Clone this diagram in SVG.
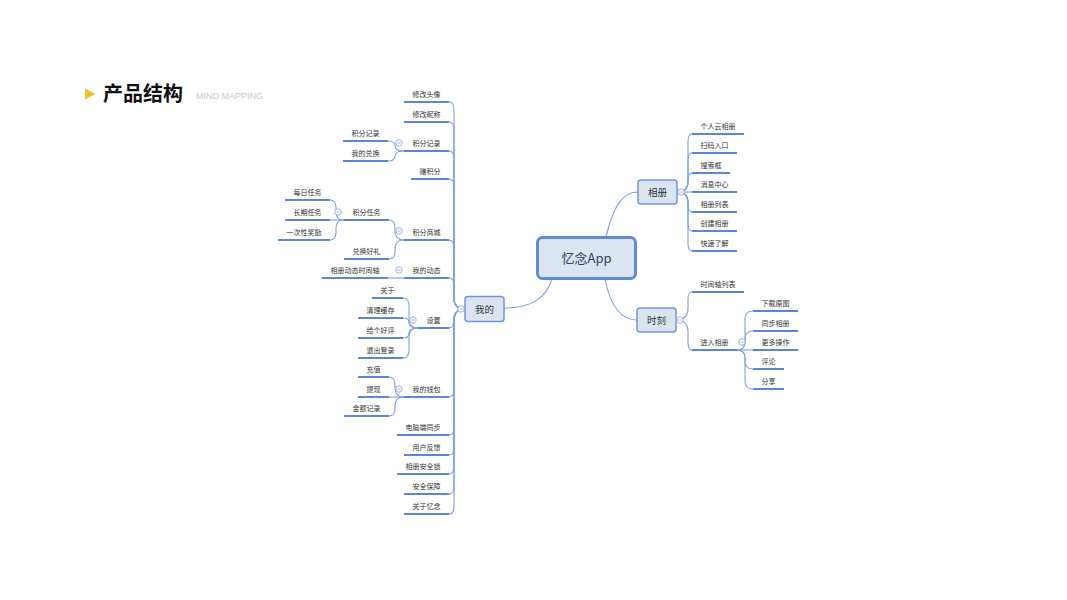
<svg xmlns="http://www.w3.org/2000/svg" xmlns:xlink="http://www.w3.org/1999/xlink" width="1067" height="600" viewBox="0 0 1067 600">
<style>
.bg{fill:#ffffff}
.t{font-family:"Noto Sans CJK SC","Microsoft YaHei",sans-serif;font-size:7px;fill:#333;text-anchor:middle}
.nt{font-family:"Noto Sans CJK SC",sans-serif;font-size:9.5px;fill:#333;text-anchor:middle}
.ul{stroke:#5b87d6;stroke-width:2;fill:none}
.c{stroke:#7ea2e0;stroke-width:1.1;fill:none}
.box{fill:#dde4f1;stroke:#6f96da;stroke-width:1.5}
</style>
<defs>
<g id="tog"><circle cx="0" cy="0" r="3.2" fill="#fff" stroke="#7ea2e0" stroke-width="0.8"/><path d="M-1.6 0H1.6" stroke="#7ea2e0" stroke-width="0.8"/></g>
</defs>
<rect class="bg" x="0" y="0" width="1067" height="600"/>

<g id="title">
<polygon points="85,88.5 95.5,94 85,99.5" fill="#f2c12e"/>
<text x="103" y="101" font-family="'Noto Sans CJK SC',sans-serif" font-size="20" font-weight="bold" fill="#111">产品结构</text>
<text x="196" y="99" font-family="'Liberation Sans',Arial,sans-serif" font-size="9" fill="#c8c8c8">MIND MAPPING</text>
</g>

<g id="connectors">
<path class="c" d="M552 279 C546 298 532 308 504 308"/>
<path class="c" d="M606 237 C612 212 620 192 638 192"/>
<path class="c" d="M605 279 C610 304 620 320 637 320"/>
<!-- 相册 -->
<path class="c" d="M677 192 Q688 192 688 181 L688 142 Q688 134 692 134"/>
<path class="c" d="M677 192 Q688 192 688 181 L688 161 Q688 153 692 153"/>
<path class="c" d="M677 192 Q688 192 688 182.5 L688 181 Q688 173 692 173"/>
<path class="c" d="M677 192 L692 192"/>
<path class="c" d="M677 192 Q688 192 688 202 L688 204 Q688 212 692 212"/>
<path class="c" d="M677 192 Q688 192 688 203 L688 223 Q688 231 692 231"/>
<path class="c" d="M677 192 Q688 192 688 203 L688 243 Q688 251 692 251"/>
<!-- 时刻 -->
<path class="c" d="M676 320 Q688 320 688 308 L688 300 Q688 292 692 292"/>
<path class="c" d="M676 320 Q688 320 688 332 L688 342 Q688 350 692 350"/>
<!-- 进入相册 -->
<path class="c" d="M737 350 Q745 350 745 342 L745 319 Q745 311 753 311"/>
<path class="c" d="M737 350 Q745 350 745 342 L745 339 Q745 331 753 331"/>
<path class="c" d="M737 350 L753 350"/>
<path class="c" d="M737 350 Q745 350 745 358 L745 361 Q745 369 753 369"/>
<path class="c" d="M737 350 Q745 350 745 358 L745 381 Q745 389 753 389"/>
<!-- 我的 -->
<path class="c" d="M465 309 Q454 309 454 298 L454 110 Q454 102 449 102"/>
<path class="c" d="M465 309 Q454 309 454 298 L454 130 Q454 122 449 122"/>
<path class="c" d="M465 309 Q454 309 454 298 L454 159 Q454 151 449 151"/>
<path class="c" d="M465 309 Q454 309 454 298 L454 187 Q454 179 449 179"/>
<path class="c" d="M465 309 Q454 309 454 298 L454 248 Q454 240 449 240"/>
<path class="c" d="M465 309 Q454 309 454 298 L454 286 Q454 278 449 278"/>
<path class="c" d="M465 309 Q454 309 454 318.5 L454 320 Q454 328 449 328"/>
<path class="c" d="M465 309 Q454 309 454 320 L454 389 Q454 397 449 397"/>
<path class="c" d="M465 309 Q454 309 454 320 L454 427 Q454 435 449 435"/>
<path class="c" d="M465 309 Q454 309 454 320 L454 447 Q454 455 449 455"/>
<path class="c" d="M465 309 Q454 309 454 320 L454 466 Q454 474 449 474"/>
<path class="c" d="M465 309 Q454 309 454 320 L454 486 Q454 494 449 494"/>
<path class="c" d="M465 309 Q454 309 454 320 L454 506 Q454 514 449 514"/>
<!-- 积分记录 -->
<path class="c" d="M404 151 Q395 151 395 146 Q395 141 388 141"/>
<path class="c" d="M404 151 Q395 151 395 156 Q395 161 388 161"/>
<!-- 积分商城 -->
<path class="c" d="M404 240 Q395 240 395 231 L395 228 Q395 220 389 220"/>
<path class="c" d="M404 240 Q395 240 395 249 L395 251 Q395 259 389 259"/>
<!-- 积分任务 -->
<path class="c" d="M344 220 Q336 220 336 212 L336 208 Q336 200 330 200"/>
<path class="c" d="M344 220 L330 220"/>
<path class="c" d="M344 220 Q336 220 336 228 L336 232 Q336 240 330 240"/>
<!-- 我的动态 -->
<path class="c" d="M404 278 L388 278"/>
<!-- 设置 -->
<path class="c" d="M418 328 Q409 328 409 319 L409 306 Q409 298 403 298"/>
<path class="c" d="M418 328 Q409 328 409 323 Q409 318 403 318"/>
<path class="c" d="M418 328 Q409 328 409 333 Q409 338 403 338"/>
<path class="c" d="M418 328 Q409 328 409 337 L409 350 Q409 358 403 358"/>
<!-- 我的钱包 -->
<path class="c" d="M404 397 Q395 397 395 388 L395 385 Q395 377 389 377"/>
<path class="c" d="M404 397 L389 397"/>
<path class="c" d="M404 397 Q395 397 395 406 L395 408 Q395 416 389 416"/>
</g>

<g id="root">
<rect x="537.5" y="237.5" width="98" height="41" rx="5" fill="#dde4f1" stroke="#5f8ad6" stroke-width="3"/>
<text x="586.5" y="263" font-family="'Noto Sans CJK SC',sans-serif" font-size="13" fill="#33425e" text-anchor="middle">忆念App</text>
</g>

<g id="n-wode"><rect class="box" x="465" y="296.5" width="39" height="25" rx="3"/><text class="nt" x="484.5" y="312.5">我的</text><use xlink:href="#tog" x="461" y="309"/></g>
<g id="n-xiangce"><rect class="box" x="638" y="180" width="39" height="24" rx="3"/><text class="nt" x="657.5" y="195.5">相册</text><use xlink:href="#tog" x="681" y="192"/></g>
<g id="n-shike"><rect class="box" x="637" y="308" width="39" height="24" rx="3"/><text class="nt" x="656.5" y="323.5">时刻</text><use xlink:href="#tog" x="680" y="320"/></g>

<!-- 我的 children -->
<g id="l-xgtx"><path class="ul" d="M404 102H449"/><text class="t" x="426.5" y="97">修改头像</text></g>
<g id="l-xgnc"><path class="ul" d="M404 122H449"/><text class="t" x="426.5" y="117">修改昵称</text></g>
<g id="l-jfjl"><path class="ul" d="M404 151H449"/><text class="t" x="426.5" y="146">积分记录</text><use xlink:href="#tog" x="399" y="143"/></g>
<g id="l-zjf"><path class="ul" d="M411 179H449"/><text class="t" x="430" y="174">赚积分</text></g>
<g id="l-jfsc"><path class="ul" d="M404 240H449"/><text class="t" x="426.5" y="235">积分商城</text><use xlink:href="#tog" x="399" y="231"/></g>
<g id="l-wddt"><path class="ul" d="M404 278H449"/><text class="t" x="426.5" y="273">我的动态</text><use xlink:href="#tog" x="399" y="270"/></g>
<g id="l-sz"><path class="ul" d="M418 328H449"/><text class="t" x="433.5" y="323">设置</text><use xlink:href="#tog" x="413" y="320"/></g>
<g id="l-wdqb"><path class="ul" d="M404 397H449"/><text class="t" x="426.5" y="392">我的钱包</text><use xlink:href="#tog" x="399" y="389"/></g>
<g id="l-dndtb"><path class="ul" d="M397 435H449"/><text class="t" x="423" y="430">电脑端同步</text></g>
<g id="l-yhfk"><path class="ul" d="M404 455H449"/><text class="t" x="426.5" y="450">用户反馈</text></g>
<g id="l-xcaqs"><path class="ul" d="M397 474H449"/><text class="t" x="423" y="469">相册安全锁</text></g>
<g id="l-aqbz"><path class="ul" d="M404 494H449"/><text class="t" x="426.5" y="489">安全保障</text></g>
<g id="l-gyyn"><path class="ul" d="M404 514H449"/><text class="t" x="426.5" y="509">关于忆念</text></g>

<!-- sub children left -->
<g id="l-jfjl2"><path class="ul" d="M343 141H388"/><text class="t" x="365.5" y="136">积分记录</text></g>
<g id="l-wddh"><path class="ul" d="M343 161H388"/><text class="t" x="365.5" y="156">我的兑换</text></g>
<g id="l-jfrw"><path class="ul" d="M344 220H389"/><text class="t" x="366.5" y="215">积分任务</text><use xlink:href="#tog" x="338" y="212"/></g>
<g id="l-dhhl"><path class="ul" d="M344 259H389"/><text class="t" x="366.5" y="254">兑换好礼</text></g>
<g id="l-mrrw"><path class="ul" d="M285 200H330"/><text class="t" x="307.5" y="195">每日任务</text></g>
<g id="l-cqrw"><path class="ul" d="M285 220H330"/><text class="t" x="307.5" y="215">长期任务</text></g>
<g id="l-ycxjl"><path class="ul" d="M278 240H330"/><text class="t" x="304" y="235">一次性奖励</text></g>
<g id="l-xcdt"><path class="ul" d="M322 278H388"/><text class="t" x="355" y="273">相册动态时间轴</text></g>
<g id="l-gy"><path class="ul" d="M372 298H403"/><text class="t" x="387.5" y="293">关于</text></g>
<g id="l-qlhc"><path class="ul" d="M358 318H403"/><text class="t" x="380.5" y="313">清理缓存</text></g>
<g id="l-ggph"><path class="ul" d="M358 338H403"/><text class="t" x="380.5" y="333">给个好评</text></g>
<g id="l-tcdl"><path class="ul" d="M358 358H403"/><text class="t" x="380.5" y="353">退出登录</text></g>
<g id="l-cz"><path class="ul" d="M358 377H389"/><text class="t" x="373.5" y="372">充值</text></g>
<g id="l-tx"><path class="ul" d="M358 397H389"/><text class="t" x="373.5" y="392">提现</text></g>
<g id="l-jejl"><path class="ul" d="M344 416H389"/><text class="t" x="366.5" y="411">金额记录</text></g>

<!-- 相册 children -->
<g id="r-grycc"><path class="ul" d="M692 134H744"/><text class="t" x="718" y="129">个人云相册</text></g>
<g id="r-smrk"><path class="ul" d="M692 153H737"/><text class="t" x="714.5" y="148">扫码入口</text></g>
<g id="r-ssk"><path class="ul" d="M692 173H730"/><text class="t" x="711" y="168">搜索框</text></g>
<g id="r-xxzx"><path class="ul" d="M692 192H737"/><text class="t" x="714.5" y="187">消息中心</text></g>
<g id="r-xclb"><path class="ul" d="M692 212H737"/><text class="t" x="714.5" y="207">相册列表</text></g>
<g id="r-cjxc"><path class="ul" d="M692 231H737"/><text class="t" x="714.5" y="226">创建相册</text></g>
<g id="r-ksl"><path class="ul" d="M692 251H737"/><text class="t" x="714.5" y="246">快速了解</text></g>

<!-- 时刻 children -->
<g id="r-sjzlb"><path class="ul" d="M692 292H744"/><text class="t" x="718" y="287">时间轴列表</text></g>
<g id="r-jrxc"><path class="ul" d="M692 350H737"/><text class="t" x="714.5" y="345">进入相册</text><use xlink:href="#tog" x="742" y="342"/></g>
<g id="r-xzyt"><path class="ul" d="M753 311H798"/><text class="t" x="775.5" y="306">下载原图</text></g>
<g id="r-tbxc"><path class="ul" d="M753 331H798"/><text class="t" x="775.5" y="326">同步相册</text></g>
<g id="r-gdcz"><path class="ul" d="M753 350H798"/><text class="t" x="775.5" y="345">更多操作</text></g>
<g id="r-pl"><path class="ul" d="M753 369H784"/><text class="t" x="768.5" y="364">评论</text></g>
<g id="r-fx"><path class="ul" d="M753 389H784"/><text class="t" x="768.5" y="384">分享</text></g>
</svg>
